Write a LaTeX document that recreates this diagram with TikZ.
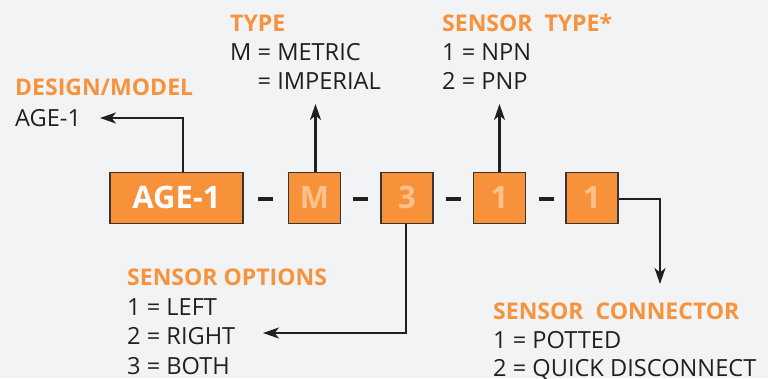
\documentclass[tikz,border=0pt]{standalone}
\usepackage{fontspec}
\setmainfont{Open Sans}
\usetikzlibrary{arrows.meta}
\definecolor{bg}{HTML}{F2F3F5}
\definecolor{orng}{HTML}{F7923A}
\definecolor{hdrorng}{HTML}{F7933C}
\definecolor{lightorng}{HTML}{FDC18D}
\definecolor{dark}{HTML}{231F20}
\definecolor{boxline}{HTML}{3A3535}
\tikzset{
  codebox/.style={draw=boxline, line width=1.2pt, fill=orng, minimum height=51pt,
    minimum width=52pt, inner sep=0pt, text=lightorng,
    font=\bfseries\fontsize{31}{31}\selectfont},
  hdr/.style={anchor=base west, inner sep=0pt, text=hdrorng,
    font=\bfseries\fontsize{23}{23}\selectfont},
  txt/.style={anchor=base west, inner sep=0pt, text=dark,
    font=\fontsize{23.6}{23.6}\selectfont},
  conn/.style={draw=dark, line width=2.2pt,
    -{Stealth[length=16pt,width=11pt,inset=4.5pt]}},
  dashbar/.style={fill=dark, inner sep=0pt, minimum width=15pt, minimum height=3.3pt}
}
\begin{document}
\begin{tikzpicture}[x=1pt,y=-1pt]
\path[use as bounding box, fill=bg] (0,0) rectangle (768,378);

% code boxes
\node[codebox, minimum width=133pt, text=white] (age) at (176.5,197.8) {AGE-1};
\node[codebox] (m) at (314.5,197.8) {M};
\node[codebox] (o) at (407,197.8) {3};
\node[codebox] (s) at (499.5,197.8) {1};
\node[codebox] (c) at (592,197.8) {1};

% dashes
\node[dashbar] (d1) at (265.5,199) {};
\node[dashbar] (d2) at (360.5,199) {};
\node[dashbar] (d3) at (453,199) {};
\node[dashbar] (d4) at (546,199) {};

% DESIGN/MODEL
\node[hdr] (h1) at (15,95) {DESIGN/MODEL};
\node[txt] (t1) at (15,126) {AGE-1};

% TYPE
\node[hdr] (h2) at (230,31.5) {TYPE};
\node[txt] (t2a) at (230,60) {M = METRIC};
\node[txt] (t2b) at (230,89) {\phantom{M} = IMPERIAL};

% SENSOR TYPE
\node[hdr] (h3) at (442,31.5) {SENSOR\ \ TYPE*};
\node[txt] (t3a) at (442,60.5) {1 = NPN};
\node[txt] (t3b) at (442,89) {2 = PNP};

% SENSOR OPTIONS
\node[hdr] (h4) at (127,285.7) {SENSOR OPTIONS};
\node[txt] (t4a) at (127,315) {1 = LEFT};
\node[txt] (t4b) at (127,344) {2 = RIGHT};
\node[txt] (t4c) at (127,374) {3 = BOTH};

% SENSOR CONNECTOR
\node[hdr] (h5) at (493,319) {SENSOR\ \ CONNECTOR};
\node[txt] (t5a) at (493,348) {1 = POTTED};
\node[txt] (t5b) at (493,376) {2 = QUICK DISCONNECT};

% arrow tips
\coordinate (tipA) at (100,118);
\coordinate (tipM) at (315.5,104);
\coordinate (tipS) at (499.5,104);
\coordinate (tipO) at (263,333);
\coordinate (tipC) at (660,284);

% connectors
\draw[conn] ([xshift=6.2pt]age.north) |- (tipA);
\draw[conn] ([xshift=1pt]m.north) -- (tipM);
\draw[conn] (s.north) -- (tipS);
\draw[conn] ([xshift=-1.3pt]o.south) |- (tipO);
\draw[conn] ([yshift=-1.2pt]c.east) -| (tipC);
\end{tikzpicture}
\end{document}
